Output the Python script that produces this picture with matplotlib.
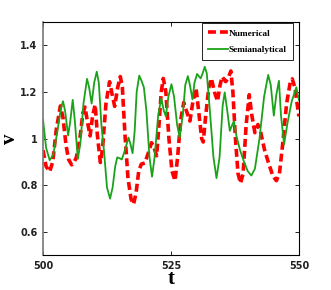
import matplotlib
matplotlib.use('Agg')
import matplotlib.pyplot as plt

# semianalytical (green solid)
t_semi = [500.0, 500.6, 501.3, 502.0, 502.8, 503.5, 503.9, 504.3, 504.9, 505.3,
          505.8, 506.2, 506.8, 507.3, 507.9, 508.6, 509.0, 509.5, 510.0, 510.5,
          510.9, 511.4, 511.9, 512.5, 513.1, 513.6, 514.1, 514.5, 515.0, 515.4,
          516.0, 516.7, 517.1, 517.5, 517.9, 518.3, 518.8, 519.3, 519.7, 520.2,
          520.8, 521.3, 521.8, 522.5, 523.1, 523.6, 524.0, 524.5, 525.1, 525.6,
          526.2, 526.7, 527.3, 527.8, 528.3, 528.7, 529.2, 529.6, 530.1, 530.8,
          531.2, 531.6, 532.0, 532.6, 533.3, 533.9, 534.5, 535.1, 535.5, 536.0,
          536.5, 537.0, 537.3, 537.8, 538.5, 539.2, 540.0, 540.7, 541.4, 542.3,
          543.2, 544.0, 544.5, 545.1, 545.6, 546.1, 546.5, 547.1, 547.8, 548.6,
          549.5, 550.0]
v_semi = [1.08, 0.96, 0.907, 0.93, 1.03, 1.13, 1.16, 1.12, 1.013, 1.07,
          1.166, 1.08, 0.912, 0.98, 1.15, 1.256, 1.22, 1.15, 1.24, 1.287,
          1.24, 1.06, 0.95, 0.79, 0.742, 0.79, 0.88, 0.919, 0.915, 0.91,
          0.95, 1.004, 0.975, 0.937, 1.03, 1.2, 1.27, 1.245, 1.22, 1.12,
          0.92, 0.836, 0.92, 1.1, 1.173, 1.12, 1.096, 1.18, 1.233, 1.18,
          1.06, 1.003, 1.1, 1.23, 1.268, 1.23, 1.168, 1.24, 1.277, 1.258,
          1.28, 1.308, 1.28, 1.12, 0.92, 0.83, 0.92, 1.14, 1.198, 1.12,
          1.033, 1.06, 1.074, 1.01, 0.95, 0.905, 0.86, 0.841, 0.87, 1.0,
          1.18, 1.273, 1.23, 1.098, 1.19, 1.248, 1.1, 0.975, 1.07, 1.16,
          1.22, 1.166]

# numerical (red dashed)
t_num = [500.0, 500.6, 501.3, 501.9, 502.6, 503.4, 503.9, 504.5, 505.0, 505.6,
         506.1, 506.5, 507.2, 507.8, 508.2, 508.7, 509.2, 509.7, 510.2, 510.6,
         511.2, 511.6, 512.3, 513.0, 513.5, 514.0, 514.6, 515.1, 515.5, 516.0,
         516.6, 517.2, 517.7, 518.2, 518.7, 519.2, 519.9, 520.6, 521.2, 521.7,
         522.2, 522.7, 523.1, 523.5, 524.0, 524.6, 525.2, 525.8, 526.3, 526.9,
         527.5, 528.0, 528.7, 529.3, 529.9, 530.4, 531.0, 531.3, 531.8, 532.4,
         532.9, 533.5, 534.1, 534.6, 535.0, 535.7, 536.2, 536.7, 537.1, 537.6,
         538.1, 538.6, 539.1, 539.7, 540.3, 540.8, 541.4, 542.0, 542.5, 543.3,
         544.0, 544.9, 545.6, 546.2, 546.8, 547.6, 548.3, 548.7, 549.2, 550.0]
v_num = [0.95, 0.88, 0.858, 0.9, 1.04, 1.14, 1.09, 0.97, 0.91, 0.887,
         0.9, 0.918, 1.0, 1.11, 1.135, 1.07, 1.011, 1.1, 1.145, 1.02,
         0.897, 0.95, 1.15, 1.244, 1.19, 1.138, 1.22, 1.266, 1.22, 1.02,
         0.83, 0.74, 0.718, 0.77, 0.86, 0.89, 0.895, 0.94, 0.982, 0.96,
         0.926, 1.07, 1.2, 1.258, 1.2, 1.0, 0.86, 0.819, 0.92, 1.08,
         1.155, 1.12, 1.075, 1.16, 1.216, 1.12, 1.0, 0.985, 1.1, 1.22,
         1.258, 1.2, 1.16, 1.23, 1.265, 1.244, 1.26, 1.29, 1.2, 1.0,
         0.85, 0.808, 0.85, 1.06, 1.188, 1.1, 1.025, 1.06, 1.03, 0.95,
         0.9, 0.84, 0.819, 0.85, 0.97, 1.15, 1.24, 1.256, 1.22, 1.095]

x_ticks = [500, 525, 550]
y_ticks = [0.6, 0.8, 1.0, 1.2, 1.4]
y_ticklabels = ['0.6', '0.8', '1', '1.2', '1.4']

fig = plt.figure(figsize=(3.31, 2.90), dpi=100)
ax = fig.add_axes([0.13, 0.1207, 0.773, 0.8033])

ax.plot(t_num, v_num, color='#ff0000', linestyle=(0, (2.2, 1.1)), linewidth=2.6,
        label='Numerical')
ax.plot(t_semi, v_semi, color='#1aa31a', linewidth=1.3, label='Semianalytical')

ax.set_xlim(500, 550)
ax.set_ylim(0.5, 1.5)
ax.set_xticks(x_ticks)
ax.set_xticklabels([str(x) for x in x_ticks])
ax.set_yticks(y_ticks)
ax.set_yticklabels(y_ticklabels)
ax.tick_params(direction='in', length=3, width=0.6, top=True, right=True,
               labelsize=7, pad=4)
for lab in ax.get_xticklabels() + ax.get_yticklabels():
    lab.set_fontweight('bold')
    lab.set_color('#222222')
for s in ax.spines.values():
    s.set_linewidth(0.8)
ax.spines['left'].set_color('#777777')
ax.spines['left'].set_linewidth(1.2)

ax.set_xlabel('t', fontsize=15, fontweight='bold', family='Liberation Serif')
ax.set_ylabel('v', fontsize=15, fontweight='bold', family='Liberation Serif')
ax.xaxis.set_label_coords(0.5, -0.06)
ax.yaxis.set_label_coords(-0.09, 0.5)

leg = ax.legend(loc='upper right', bbox_to_anchor=(0.977, 0.996),
                prop={'family': 'Liberation Serif', 'weight': 'bold', 'size': 6.7},
                frameon=True, fancybox=False, edgecolor='black', framealpha=1,
                handlelength=2.1, borderpad=0.65, labelspacing=0.85, handletextpad=0.15,
                borderaxespad=0)
leg.get_frame().set_linewidth(0.6)

fig.savefig('out.png', dpi=100)
